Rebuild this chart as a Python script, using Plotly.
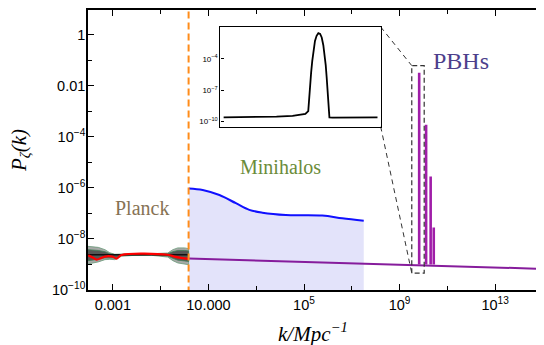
import plotly.graph_objects as go

# ---------------- data (log10 values) ----------------
# Planck band
planck_log10_k = [-4.04, -3.61, -3.33, -3.13, -2.92, -2.64, -2.08, -1.39, -0.70, -0.49, -0.28, 0.00, 0.17]
planck_outer_hi = [-8.29, -8.33, -8.42, -8.54, -8.60, -8.59, -8.58, -8.58, -8.55, -8.42, -8.35, -8.35, -8.38]
planck_outer_lo = [-8.98, -8.90, -8.81, -8.80, -8.81, -8.68, -8.64, -8.64, -8.71, -8.85, -8.94, -8.98, -9.01]
planck_inner_hi = [-8.42, -8.45, -8.50, -8.58, -8.61, -8.60, -8.60, -8.60, -8.58, -8.50, -8.45, -8.45, -8.47]
planck_inner_lo = [-8.85, -8.80, -8.74, -8.74, -8.75, -8.65, -8.63, -8.63, -8.67, -8.76, -8.83, -8.86, -8.88]
planck_center = -8.62

red_log10_k = [-4.03, -3.82, -3.68, -3.47, -3.26, -2.99, -2.85, -2.64, -0.70, -0.42, -0.14, 0.17]
red_log10_p = [-8.64, -8.74, -8.81, -8.74, -8.68, -8.70, -8.77, -8.63, -8.62, -8.69, -8.74, -8.78]

# Minihalos bound (blue)
blue_log10_k = [0.18, 0.76, 1.46, 2.15, 2.71, 3.26, 4.24, 5.76, 6.60, 7.50]
blue_log10_p = [-6.02, -6.08, -6.28, -6.60, -6.86, -6.97, -7.06, -7.08, -7.19, -7.29]

# Planck cut (orange dashed)
cut_log10_k = 0.17

# Power spectrum baseline (purple)
base_log10_k = [0.17, 14.96]
base_log10_p = [-8.77, -9.17]

# PBH spikes
spike_log10_k = [9.82, 10.11, 10.30, 10.43]
spike_log10_top = [-1.52, -3.55, -5.58, -7.58]
spike_log10_base = -9.00
spike_half_width = 0.025

# zoom box
box_log10_k = [9.51, 10.03]
box_log10_p = [-9.34, -1.21]

# inset curve
inset_x = [0.02, 0.20, 0.35, 0.45, 0.50, 0.53, 0.548, 0.557, 0.566, 0.573, 0.582, 0.590,
           0.600, 0.611, 0.622, 0.632, 0.642, 0.650, 0.657, 0.663, 0.673, 0.680, 0.70, 0.80, 0.98]
inset_log10_p = [-9.59, -9.57, -9.52, -9.45, -9.38, -9.27, -9.00, -6.73, -5.30, -4.19, -3.10, -2.29,
                 -1.80, -1.55, -1.62, -1.96, -2.70, -3.55, -4.60, -5.78, -8.64, -9.60, -9.62, -9.62, -9.60]

# axes
x_range = [-4.04, 14.96]
y_range = [-10.0, 0.97]
x_tickvals = [1e-3, 1e1, 1e5, 1e9, 1e13]
x_ticktext = ['0.001', '10.000', '10<sup>5</sup>', '10<sup>9</sup>', '10<sup>13</sup>']
x_minor = [1e-1, 1e3, 1e7, 1e11]
y_tickvals = [1, 1e-2, 1e-4, 1e-6, 1e-8, 1e-10]
y_ticktext = ['1', '0.01', '10<sup>−4</sup>', '10<sup>−6</sup>', '10<sup>−8</sup>', '10<sup>−10</sup>']
y_minor = [1e-1, 1e-3, 1e-5, 1e-7, 1e-9]
inset_tickvals = [1e-4, 1e-7, 1e-10]
inset_ticktext = ['10<sup>−4</sup>', '10<sup>−7</sup>', '10<sup>−10</sup>']
inset_y_range = [-10.48, -0.95]

INSET_X = [0.2917, 0.6447]
INSET_Y = [0.5836, 0.9395]


def p(v):
    return [10 ** a for a in v]


fig = go.Figure()

# minihalos fill
fig.add_trace(go.Scatter(
    x=p(blue_log10_k) + p([blue_log10_k[-1], blue_log10_k[0]]),
    y=p(blue_log10_p) + [1e-11, 1e-11],
    fill='toself', fillcolor='#e3e3fa', line=dict(width=0), mode='lines',
    hoverinfo='skip', showlegend=False))

# Planck outer band
fig.add_trace(go.Scatter(
    x=p(planck_log10_k) + p(planck_log10_k[::-1]),
    y=p(planck_outer_hi) + p(planck_outer_lo[::-1]),
    fill='toself', fillcolor='#a7a9a7', line=dict(color='#6a9a7a', width=0.8),
    mode='lines', showlegend=False))
# Planck inner band
fig.add_trace(go.Scatter(
    x=p(planck_log10_k) + p(planck_log10_k[::-1]),
    y=p(planck_inner_hi) + p(planck_inner_lo[::-1]),
    fill='toself', fillcolor='#555755', line=dict(color='#3f7d55', width=0.8),
    mode='lines', showlegend=False))
# Planck center line
fig.add_trace(go.Scatter(
    x=p([planck_log10_k[0], planck_log10_k[-1]]),
    y=p([planck_center, planck_center]),
    line=dict(color='#111111', width=1.6), mode='lines', showlegend=False))
# red line
fig.add_trace(go.Scatter(
    x=p(red_log10_k), y=p(red_log10_p), line=dict(color='#ff0000', width=2.2, shape='spline'),
    mode='lines', showlegend=False))

# purple baseline
fig.add_trace(go.Scatter(
    x=p(base_log10_k), y=p(base_log10_p), line=dict(color='#861c9c', width=2),
    mode='lines', showlegend=False))

# spikes
for k, top in zip(spike_log10_k, spike_log10_top):
    fig.add_trace(go.Scatter(
        x=p([k - spike_half_width, k - spike_half_width, k + spike_half_width, k + spike_half_width]),
        y=p([spike_log10_base, top, top, spike_log10_base]),
        line=dict(color='#a01ea8', width=1.4), mode='lines', showlegend=False))

# blue line
fig.add_trace(go.Scatter(
    x=p(blue_log10_k), y=p(blue_log10_p), line=dict(color='#1010ff', width=2, shape='spline'),
    mode='lines', showlegend=False))

# orange dashed cut
fig.add_trace(go.Scatter(
    x=p([cut_log10_k, cut_log10_k]), y=p([y_range[0] - 1, y_range[1] + 1]),
    line=dict(color='#ff8c1a', width=2, dash='7px,4px'), mode='lines', showlegend=False))

# zoom box
bx0, bx1 = box_log10_k
by0, by1 = box_log10_p
fig.add_trace(go.Scatter(
    x=p([bx0, bx0, bx1, bx1, bx0]), y=p([by0, by1, by1, by0, by0]),
    line=dict(color='#333333', width=1.2, dash='5px,3px'), mode='lines', showlegend=False))

# connectors from inset corners (computed from the inset domain and main ranges)
cx = x_range[0] + INSET_X[1] * (x_range[1] - x_range[0])
cy_top = y_range[0] + INSET_Y[1] * (y_range[1] - y_range[0])
cy_bot = y_range[0] + INSET_Y[0] * (y_range[1] - y_range[0])
fig.add_trace(go.Scatter(
    x=p([cx, bx0]), y=p([cy_top, by1]),
    line=dict(color='#333333', width=1, dash='5px,4px'), mode='lines', showlegend=False))
fig.add_trace(go.Scatter(
    x=p([cx, bx0]), y=p([cy_bot, by0]),
    line=dict(color='#333333', width=1, dash='5px,4px'), mode='lines', showlegend=False))

# inset
fig.add_trace(go.Scatter(
    x=inset_x, y=p(inset_log10_p), xaxis='x2', yaxis='y2',
    line=dict(color='#000000', width=1.8), mode='lines', showlegend=False))

tickfont = dict(family='Liberation Sans, Arial, sans-serif', size=14.5, color='#000000')
serif = 'Liberation Serif, Times New Roman, serif'

fig.update_layout(
    width=536, height=337,
    margin=dict(l=80, r=0, t=1, b=55),
    paper_bgcolor='white', plot_bgcolor='white',
    xaxis=dict(type='log', range=x_range, showgrid=False, zeroline=False,
               showline=True, linecolor='black', linewidth=1.6, mirror='ticks',
               ticks='inside', ticklen=6, tickwidth=1, tickcolor='black',
               tickvals=x_tickvals, ticktext=x_ticktext, tickfont=tickfont,
               ticklabelstandoff=1,
               minor=dict(tickvals=x_minor, ticks='inside', ticklen=4, tickcolor='black')),
    yaxis=dict(type='log', range=y_range, showgrid=False, zeroline=False,
               showline=True, linecolor='black', linewidth=1.6, mirror='ticks',
               ticks='inside', ticklen=6, tickwidth=1, tickcolor='black',
               tickvals=y_tickvals, ticktext=y_ticktext, tickfont=tickfont,
               ticklabelstandoff=-2,
               minor=dict(tickvals=y_minor, ticks='inside', ticklen=4, tickcolor='black')),
    xaxis2=dict(domain=INSET_X, anchor='y2', range=[0, 1], showgrid=False, zeroline=False,
                showline=True, linecolor='black', linewidth=1.2, mirror=True,
                ticks='', showticklabels=False),
    yaxis2=dict(domain=INSET_Y, anchor='x2', type='log', range=inset_y_range,
                showgrid=False, zeroline=False, showline=True, linecolor='black',
                linewidth=1.2, mirror=True, ticks='inside', ticklen=3, tickcolor='black',
                tickvals=inset_tickvals, ticktext=inset_ticktext,
                tickfont=dict(family='Liberation Sans, Arial, sans-serif', size=8, color='#000')),
    annotations=[
        dict(text='Planck', x=0.118, y=0.292, xref='paper', yref='paper', showarrow=False,
             xanchor='center', yanchor='middle',
             font=dict(family=serif, size=20, color='#867254')),
        dict(text='Minihalos', x=0.425, y=0.438, xref='paper', yref='paper', showarrow=False,
             xanchor='center', yanchor='middle',
             font=dict(family=serif, size=20, color='#6b8c3a')),
        dict(text='PBHs', x=0.821, y=0.819, xref='paper', yref='paper', showarrow=False,
             xanchor='center', yanchor='middle',
             font=dict(family=serif, size=24, color='#4d3f8c')),
        dict(text='<i>P</i><sub><i>ζ</i></sub><i>(k)</i>', x=-0.151, y=0.498,
             xref='paper', yref='paper', showarrow=False, textangle=-90,
             xanchor='center', yanchor='middle',
             font=dict(family=serif, size=21, color='#000')),
        dict(text='<i>k/Mpc</i><sup><i>−1</i></sup>', x=0.496, y=-0.153,
             xref='paper', yref='paper', showarrow=False,
             xanchor='center', yanchor='middle',
             font=dict(family=serif, size=21, color='#000')),
    ],
)

fig.write_html('out.html')
